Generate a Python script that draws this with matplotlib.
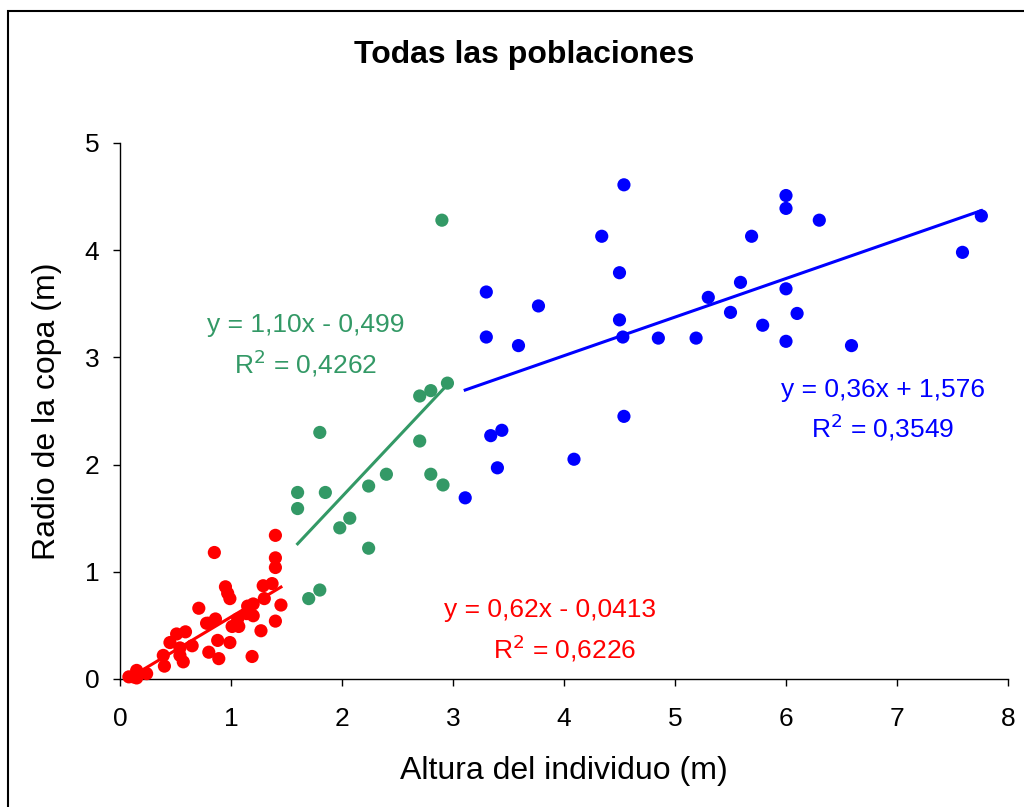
import matplotlib
matplotlib.use("Agg")
import matplotlib.pyplot as plt
from matplotlib.patches import Rectangle
import numpy as np

plt.rcParams["font.family"] = ["Liberation Sans", "DejaVu Sans"]

# Altura (m) y radio de copa (m) por grupo de tamaño
alt_peq = [0.08, 0.12, 0.15, 0.15, 0.24, 0.39, 0.40, 0.45, 0.51, 0.54, 0.54, 0.57,
           0.59, 0.65, 0.71, 0.78, 0.80, 0.80, 0.85, 0.86, 0.88, 0.89, 0.95, 0.97,
           0.99, 0.99, 1.01, 1.06, 1.07, 1.14, 1.15, 1.19, 1.20, 1.20, 1.27, 1.29,
           1.30, 1.37, 1.40, 1.40, 1.40, 1.40, 1.45]
radio_peq = [0.02, 0.02, 0.08, 0.01, 0.05, 0.22, 0.12, 0.34, 0.42, 0.29, 0.22, 0.16,
             0.44, 0.31, 0.66, 0.52, 0.25, 0.52, 1.18, 0.56, 0.36, 0.19, 0.86, 0.80,
             0.75, 0.34, 0.49, 0.56, 0.49, 0.61, 0.68, 0.21, 0.70, 0.59, 0.45, 0.87,
             0.75, 0.89, 1.34, 1.13, 1.04, 0.54, 0.69]

alt_med = [1.60, 1.60, 1.70, 1.80, 1.80, 1.85, 1.98, 2.07, 2.24, 2.24, 2.40, 2.70,
           2.70, 2.80, 2.80, 2.90, 2.91, 2.95]
radio_med = [1.74, 1.59, 0.75, 2.30, 0.83, 1.74, 1.41, 1.50, 1.80, 1.22, 1.91, 2.64,
             2.22, 2.69, 1.91, 4.28, 1.81, 2.76]

alt_gra = [3.11, 3.30, 3.30, 3.34, 3.40, 3.44, 3.59, 3.77, 4.09, 4.34, 4.50, 4.50,
           4.53, 4.54, 4.54, 4.85, 5.19, 5.30, 5.50, 5.59, 5.69, 5.79, 6.00, 6.00,
           6.00, 6.00, 6.10, 6.30, 6.59, 7.59, 7.76]
radio_gra = [1.69, 3.61, 3.19, 2.27, 1.97, 2.32, 3.11, 3.48, 2.05, 4.13, 3.79, 3.35,
             3.19, 4.61, 2.45, 3.18, 3.18, 3.56, 3.42, 3.70, 4.13, 3.30, 4.51, 4.39,
             3.64, 3.15, 3.41, 4.28, 3.11, 3.98, 4.32]

# Ajustes lineales (pendiente, ordenada) y R2
pend_peq, ord_peq, r2_peq = 0.62, -0.0413, 0.6226
pend_med, ord_med, r2_med = 1.10, -0.499, 0.4262
pend_gra, ord_gra, r2_gra = 0.36, 1.576, 0.3549

ROJO = "#FF0000"
VERDE = "#339966"
AZUL = "#0000FF"
TAM_EC = 19

fig = plt.figure(figsize=(10.24, 8.07), dpi=100)
ax = fig.add_axes([120 / 1024, 128 / 807, 888 / 1024, 536 / 807])

grupos = [
    (alt_peq, radio_peq, pend_peq, ord_peq, ROJO),
    (alt_med, radio_med, pend_med, ord_med, VERDE),
    (alt_gra, radio_gra, pend_gra, ord_gra, AZUL),
]
for xs, ys, m, b, color in grupos:
    ax.scatter(xs, ys, s=90, color=color, edgecolors="none", zorder=3, clip_on=False)
    xl = np.array([min(xs), max(xs)])
    ax.plot(xl, m * xl + b, color=color, lw=2.2, zorder=2)


# Ecuación y R2 de cada recta
def etiqueta(x, y, m, b, r2, color, dec_b, dx_r2=0.0):
    signo = "+" if b >= 0 else "-"
    txt_b = f"{abs(b):.{dec_b}f}".replace(".", ",")
    txt_m = f"{m:.2f}".replace(".", ",")
    ax.text(x, y, f"y = {txt_m}x {signo} {txt_b}", color=color, fontsize=TAM_EC,
            ha="center", va="center")
    ax.text(x + dx_r2, y - 0.35, "R$^2$ = " + f"{r2:.4f}".replace(".", ","),
            color=color, fontsize=TAM_EC, ha="center", va="center")


etiqueta(1.67, 3.30, pend_med, ord_med, r2_med, VERDE, 3)
etiqueta(6.87, 2.70, pend_gra, ord_gra, r2_gra, AZUL, 3)
etiqueta(3.87, 0.64, pend_peq, ord_peq, r2_peq, ROJO, 4, dx_r2=0.14)

ax.set_xlim(0, 8)
ax.set_ylim(0, 5)
ax.set_xticks(range(0, 9))
ax.set_yticks(range(0, 6))
ax.tick_params(direction="out", length=5, width=1, labelsize=19)
ax.tick_params(axis="x", pad=15)
ax.tick_params(axis="y", pad=10)
for lado in ["top", "right"]:
    ax.spines[lado].set_visible(False)
for lado in ["left", "bottom"]:
    ax.spines[lado].set_linewidth(1)

ax.set_xlabel("Altura del individuo (m)", fontsize=23, labelpad=18)
ax.set_ylabel("Radio de la copa (m)", fontsize=23, labelpad=16)
fig.text(0.512, 1 - 55 / 807, "Todas las poblaciones", fontsize=23, fontweight="bold",
         ha="center", va="center")

# Marco exterior del gráfico
fig.patches.append(Rectangle((8 / 1024, -0.02), 1.1, 1 - 11 / 807 + 0.02,
                             transform=fig.transFigure, fill=False, lw=1.5,
                             edgecolor="black"))

fig.savefig("out.png", dpi=100)
